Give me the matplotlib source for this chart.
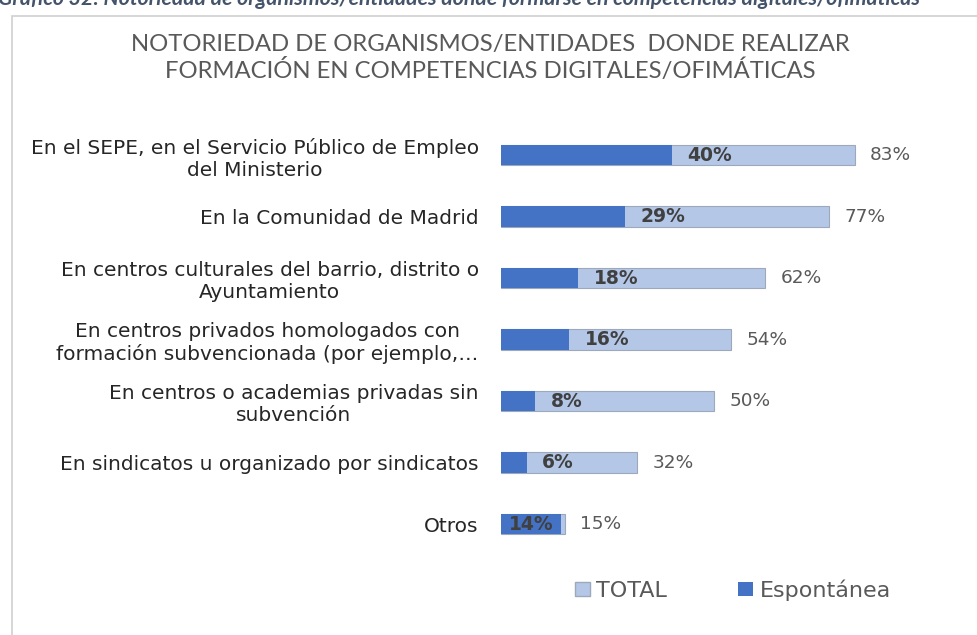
import matplotlib
matplotlib.use("Agg")
import matplotlib.pyplot as plt
from matplotlib.patches import Rectangle, Patch

plt.rcParams['font.family'] = ['DejaVu Sans']

categorias = [
    "En el SEPE, en el Servicio Público de Empleo\ndel Ministerio",
    "En la Comunidad de Madrid",
    "En centros culturales del barrio, distrito o\nAyuntamiento",
    "En centros privados homologados con\nformación subvencionada (por ejemplo,…",
    "En centros o academias privadas sin\nsubvención",
    "En sindicatos u organizado por sindicatos",
    "Otros",
]
total = [83, 77, 62, 54, 50, 32, 15]
espontanea = [40, 29, 18, 16, 8, 6, 14]

color_total = '#B4C7E7'
color_esp = '#4472C4'
gris = '#595959'

fig = plt.figure(figsize=(9.78, 6.35), dpi=100)

# marco del gráfico
fig.patches.append(Rectangle((12 / 978, -0.1), 1.0, (635 - 16) / 635 + 0.1,
                             transform=fig.transFigure, fill=False,
                             edgecolor='#D0D0D0', linewidth=1.2))

# pie de gráfico cortado arriba (como en la captura)
fig.text(-0.002, 1 + 1 / 635,
         "Gráfico 32: Notoriedad de organismos/entidades donde formarse en competencias digitales/ofimáticas",
         fontsize=15.3, style='italic', fontweight='bold', color='#44546A',
         ha='left', va='center', family='Lato')

fig.text(490 / 978, 1 - 58 / 635,
         "NOTORIEDAD DE ORGANISMOS/ENTIDADES  DONDE REALIZAR\nFORMACIÓN EN COMPETENCIAS DIGITALES/OFIMÁTICAS",
         fontsize=17.2, color=gris, ha='center', va='center', linespacing=1.2,
         family='Lato')

ax = fig.add_axes([501 / 978, (635 - 554.75) / 635, 426.5 / 978, 430.5 / 635])

y = list(range(len(categorias)))
ax.barh(y, total, height=0.33, color=color_total, edgecolor='#9DA9BA', linewidth=0.8, label='TOTAL')
ax.barh(y, espontanea, height=0.33, color=color_esp, label='Espontánea')

for i in y:
    ax.text(total[i] + 3.5, i, f"{total[i]}%", va='center', ha='left',
            fontsize=13.3, color=gris)
    if espontanea[i] < total[i] - 3:
        ax.text(espontanea[i] + 3.7, i, f"{espontanea[i]}%", va='center', ha='left',
                fontsize=13.5, fontweight='bold', color='#404040')
    else:
        ax.text(espontanea[i] / 2, i, f"{espontanea[i]}%", va='center', ha='center',
                fontsize=13.5, fontweight='bold', color='#404040')

ax.set_xlim(0, 100)
ax.set_ylim(len(categorias) - 0.5, -0.5)
ax.set_yticks(y)
ax.set_yticklabels(categorias, fontsize=14.5, color='#262626', multialignment='center')
ax.tick_params(axis='y', length=0, pad=16)
ax.set_xticks([])
for s in ax.spines.values():
    s.set_visible(False)

handles = [Patch(facecolor=color_total, edgecolor='#9DA9BA'), Patch(facecolor=color_esp)]
fig.legend(handles, ['TOTAL', 'Espontánea'], loc='center', bbox_to_anchor=(733 / 978, 1 - 590 / 635),
           ncol=2, frameon=False, fontsize=16, labelcolor=gris, handlelength=0.65,
           handleheight=0.65, handletextpad=0.3, columnspacing=3.2)

fig.savefig('out.png', dpi=100)
